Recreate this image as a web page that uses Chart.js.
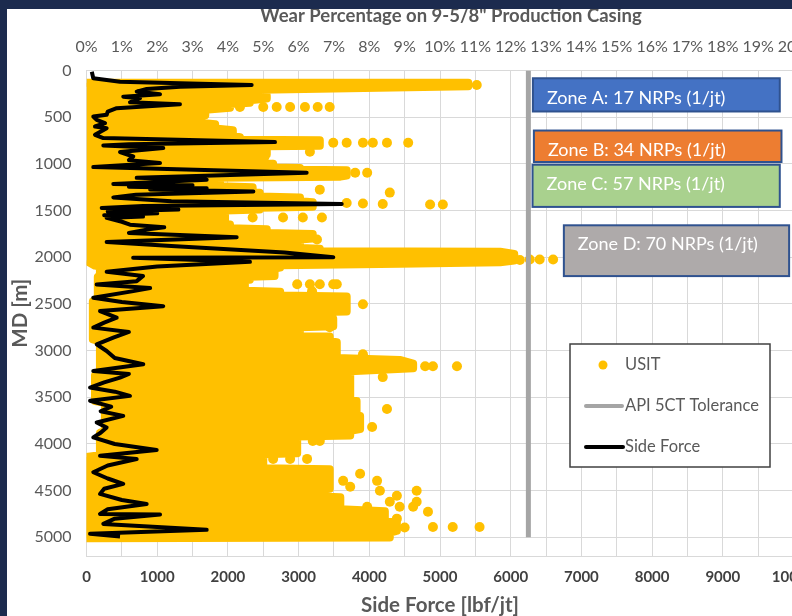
<!DOCTYPE html>
<html>
<head>
<meta charset="utf-8">
<script src="https://cdn.jsdelivr.net/npm/chart.js@4.4.1/dist/chart.umd.min.js"></script>
<style>
  html, body { margin: 0; padding: 0; width: 792px; height: 616px; overflow: hidden; background: #1c2b4e; }
  #card { position: absolute; left: 7px; top: 9px; width: 830px; height: 611px; background: #ffffff; overflow: hidden; }
</style>
</head>
<body>
<div id="card"><canvas id="wear"></canvas></div>
<script>
// USIT readings: outline of the dense band (force lbf/jt, depth m)
const usitCoreForce = [0, 5400, 5400, 2450, 2450, 2550, 2550, 2310, 2310, 2030, 2030, 1680, 1680, 1600, 1600, 1820, 1820, 2070, 2070, 2170,
  2170, 3300, 3300, 2550, 2550, 2520, 2520, 2640, 2640, 3020, 3020, 3680, 3680, 3590, 1790, 1790, 1890, 1890, 2350, 2350,
  2450, 2450, 3020, 3020, 3200, 3200, 2450, 2450, 1960, 1960, 2030, 2030, 2550, 2550, 3200, 3200, 3020, 3020, 3300, 3300,
  5850, 6050, 6050, 5850, 4430, 2740, 2740, 2660, 2660, 2310, 2310, 2240, 2240, 2740, 2740, 3680, 3680, 3160, 3160,
  3490, 3490, 3020, 3020, 2210, 2210, 3440, 3440, 3540, 3540, 4430, 4620, 4620, 3730, 3730, 3820, 3820, 3870, 3870, 3730,
  3730, 2980, 2980, 2500, 2500, 3440, 3440, 3230, 3230, 3590, 3590, 4220, 4220, 4390, 4390, 4290, 4290, 0,
  0, 190, 190, 260, 260, 120, 120, 190, 190, 90, 90, 160, 160, 190, 190, 120, 0];
const usitCoreDepth = [130, 130, 170, 205, 260, 270, 300, 320, 345, 360, 400, 420, 480, 500, 560, 575, 620, 640, 700, 715,
  742, 748, 806, 812, 900, 940, 990, 1000, 1040, 1045, 1062, 1068, 1125, 1137, 1150, 1200, 1210, 1240, 1250, 1300,
  1310, 1350, 1360, 1400, 1410, 1460, 1470, 1490, 1500, 1640, 1650, 1690, 1700, 1740, 1750, 1800, 1810, 1900, 1910, 1935,
  1940, 1965, 2035, 2055, 2070, 2085, 2110, 2120, 2200, 2210, 2240, 2250, 2360, 2370, 2410, 2420, 2580, 2590, 2650,
  2660, 2740, 2750, 2790, 2800, 2840, 2850, 2900, 2910, 3080, 3100, 3140, 3190, 3220, 3520, 3540, 3680, 3700, 3840, 3860,
  3910, 3920, 4100, 4110, 4260, 4270, 4480, 4500, 4560, 4570, 4700, 4720, 4820, 4840, 4930, 4950, 5003, 5010,
  4140, 4120, 3880, 3860, 3560, 3540, 3260, 3240, 2900, 2880, 2470, 2450, 2210, 2190, 2100, 2090, 2040];

// USIT readings outside the dense band
const usitDotForce = [5300, 5520, 2170, 2500, 2690, 2880, 3090, 3270, 3440, 3490, 3680, 3910, 4050, 4250, 4550, 3160, 3800, 3970,
  3300, 4290, 3680, 3910, 4190, 4860, 5040, 2350, 2780, 3060, 3330, 3260, 6130, 6270, 6410, 6600,
  2980, 3160, 3300, 3490, 3540, 3190, 3910, 3160, 3440, 2450, 2670, 2920, 3490, 3910, 4790, 4900, 5240, 4190,
  4250, 4040, 3200, 3300, 2640, 2880, 3120, 3870, 3630, 4110, 3730, 4150, 4670, 4390, 4290, 4670, 3970, 4430,
  4620, 4830, 4390, 4500, 4900, 5180, 5560];
const usitDotDepth = [150, 155, 390, 390, 390, 390, 390, 390, 390, 774, 774, 774, 774, 774, 774, 870, 1095, 1095,
  1276, 1308, 1420, 1425, 1430, 1436, 1436, 1575, 1575, 1575, 1575, 1810, 2030, 2025, 2025, 2025,
  2290, 2290, 2290, 2290, 2290, 2365, 2504, 2643, 2750, 2814, 2814, 2814, 2953, 3039, 3167, 3167, 3167, 3284,
  3626, 3818, 3968, 3968, 4160, 4160, 4160, 4320, 4395, 4395, 4459, 4502, 4502, 4555, 4619, 4619, 4672, 4672,
  4672, 4726, 4800, 4895, 4890, 4890, 4890];

// Side force along the well
const sideForceDepth = [13, 83, 120, 137, 155, 173, 198, 226, 254, 280, 297, 340, 361, 404, 440, 475, 493, 529, 564, 600,
  618, 689, 724, 767, 790, 803, 831, 874, 921, 960, 991, 1034, 1095, 1150, 1170, 1216, 1230, 1245, 1260, 1275,
  1295, 1330, 1359, 1400, 1430, 1450, 1472, 1490, 1510, 1530, 1550, 1565, 1579, 1620, 1651, 1680, 1704, 1740, 1786, 1836,
  1880, 1950, 2000, 2005, 2049, 2100, 2156, 2200, 2256, 2292, 2330, 2363, 2434, 2480, 2524, 2577, 2648, 2700, 2754, 2800,
  2861, 2933, 3004, 3080, 3146, 3218, 3250, 3289, 3340, 3396, 3440, 3485, 3538, 3600, 3650, 3699, 3770, 3823, 3880, 3930,
  4000, 4065, 4126, 4161, 4230, 4303, 4370, 4428, 4480, 4535, 4600, 4642, 4700, 4749, 4756, 4800, 4856, 4920, 4963, 4991];
const sideForceValue = [75, 96, 474, 1322, 2336, 1322, 851, 710, 1040, 520, 757, 615, 1322, 427, 300, 285, 96, 144, 262, 120,
  285, 120, 238, 2666, 600, 238, 1086, 474, 662, 600, 1040, 96, 3114, 710, 1700, 379, 1500, 600, 1700, 900,
  2360, 700, 379, 1200, 3610, 800, 215, 1300, 300, 1000, 250, 800, 285, 500, 615, 1100, 851, 600, 2124, 285,
  1200, 2800, 3491, 660, 2312, 1000, 285, 800, 710, 144, 900, 662, 96, 500, 1086, 191, 427, 250, 96, 600,
  379, 144, 285, 400, 803, 96, 600, 474, 250, 50, 400, 615, 50, 350, 200, 520, 144, 285, 200, 96,
  400, 993, 191, 710, 300, 96, 300, 520, 250, 191, 500, 851, 300, 191, 1040, 400, 238, 1700, 50, 474];

// API 5CT tolerance (12.5% wall loss)
const toleranceForce = 6250;
const toleranceDepth = [0, 5000];

// Zone call-outs
const zoneLabels = ['Zone A: 17 NRPs (1/jt)', 'Zone B: 34 NRPs (1/jt)', 'Zone C: 57 NRPs (1/jt)', 'Zone D: 70 NRPs (1/jt)'];
const zoneForceFrom = [6314, 6328, 6309, 6752];
const zoneForceTo = [9806, 9830, 9806, 9938];
const zoneDepthFrom = [83, 643, 1009, 1658];
const zoneDepthTo = [439, 980, 1461, 2202];
const zoneTextDepth = [297, 849, 1223, 1864];
const zoneFill = ['#4472c4', '#ed7d31', '#a9d18e', '#aeaaaa'];

// axes
const pctTicks = { min: 0, max: 20 };
const forceTicks = { min: 0, max: 10000 };
const depthRange = { min: 0, max: 5200 };
const depthTickValues = [0, 500, 1000, 1500, 2000, 2500, 3000, 3500, 4000, 4500, 5000];

(function() {
  const colors = {
    usit: '#ffc000',
    side: '#000000',
    tol: '#a5a5a5',
    grid: '#d9d9d9',
    text: '#595959',
    dark: '#404040'
  };
  const FONT = 'Lato, "Open Sans", sans-serif';

  const toXY = (xs, ys) => xs.map((x, i) => ({ x: x, y: ys[i] }));

  const zonePlugin = {
    id: 'zones',
    afterDatasetsDraw(chart) {
      const { ctx, scales: { x, y } } = chart;
      ctx.save();
      zoneLabels.forEach((label, i) => {
        const l = x.getPixelForValue(zoneForceFrom[i]);
        const r = x.getPixelForValue(zoneForceTo[i]);
        const t = y.getPixelForValue(zoneDepthFrom[i]);
        const b = y.getPixelForValue(zoneDepthTo[i]);
        ctx.fillStyle = zoneFill[i];
        ctx.fillRect(l, t, r - l, b - t);
        ctx.strokeStyle = '#2f528f';
        ctx.lineWidth = 2;
        ctx.strokeRect(l, t, r - l, b - t);
        ctx.fillStyle = '#ffffff';
        ctx.font = '18px ' + FONT;
        ctx.textBaseline = 'middle';
        ctx.textAlign = 'left';
        ctx.fillText(label, l + 14, y.getPixelForValue(zoneTextDepth[i]));
      });

      // legend box
      const lx = 563, ly = 335, lw = 200, lh = 123;
      ctx.fillStyle = '#ffffff';
      ctx.fillRect(lx, ly, lw, lh);
      ctx.strokeStyle = '#404040';
      ctx.lineWidth = 1.5;
      ctx.strokeRect(lx, ly, lw, lh);
      ctx.font = '16.5px ' + FONT;
      ctx.fillStyle = colors.text;
      ctx.textBaseline = 'middle';
      ctx.fillText('USIT', lx + 55, ly + 21);
      ctx.fillText('API 5CT Tolerance', lx + 55, ly + 62);
      ctx.fillText('Side Force', lx + 55, ly + 103);
      ctx.beginPath();
      ctx.arc(lx + 33, ly + 21, 4.5, 0, Math.PI * 2);
      ctx.fillStyle = colors.usit;
      ctx.fill();
      ctx.lineCap = 'round';
      ctx.lineWidth = 4;
      ctx.strokeStyle = colors.tol;
      ctx.beginPath(); ctx.moveTo(lx + 16, ly + 62); ctx.lineTo(lx + 52, ly + 62); ctx.stroke();
      ctx.strokeStyle = colors.side;
      ctx.beginPath(); ctx.moveTo(lx + 16, ly + 103); ctx.lineTo(lx + 53, ly + 103); ctx.stroke();

      // chart title
      ctx.font = 'bold 18.5px ' + FONT;
      ctx.fillStyle = colors.text;
      ctx.textAlign = 'center';
      ctx.textBaseline = 'alphabetic';
      ctx.fillText('Wear Percentage on 9-5/8" Production Casing', 444, 12.7);
      ctx.restore();
    }
  };

  new Chart(document.getElementById('wear'), {
    type: 'scatter',
    data: {
      datasets: [
        {
          label: 'Side Force',
          data: toXY(sideForceValue, sideForceDepth),
          showLine: true,
          borderColor: colors.side,
          borderWidth: 4,
          borderJoinStyle: 'round',
          pointRadius: 0,
          tension: 0,
          order: 0
        },
        {
          label: 'API 5CT Tolerance',
          data: toleranceDepth.map(d => ({ x: toleranceForce, y: d })),
          showLine: true,
          borderColor: colors.tol,
          borderWidth: 5,
          pointRadius: 0,
          order: 1
        },
        {
          label: 'USIT',
          data: toXY(usitDotForce, usitDotDepth),
          backgroundColor: colors.usit,
          borderWidth: 0,
          pointRadius: 5,
          order: 2
        },
        {
          label: 'USIT band',
          type: 'line',
          data: toXY(usitCoreForce, usitCoreDepth),
          borderColor: colors.usit,
          backgroundColor: colors.usit,
          borderWidth: 8,
          borderJoinStyle: 'round',
          fill: 'shape',
          pointRadius: 0,
          tension: 0,
          order: 3
        }
      ]
    },
    options: {
      responsive: true,
      maintainAspectRatio: false,
      animation: false,
      layout: { padding: { left: 0, right: 43.5, top: 0, bottom: 0 } },
      plugins: {
        legend: { display: false },
        tooltip: { enabled: false }
      },
      scales: {
        x: {
          type: 'linear',
          position: 'bottom',
          min: forceTicks.min,
          max: forceTicks.max,
          ticks: {
            stepSize: 1000,
            padding: 12,
            color: colors.dark,
            font: { family: FONT, size: 15, weight: 'bold' },
            maxRotation: 0,
            autoSkip: false,
            callback: v => String(v)
          },
          grid: { display: false, drawTicks: false },
          border: { color: colors.grid },
          title: {
            display: true,
            text: 'Side Force [lbf/jt]',
            color: colors.text,
            font: { family: FONT, size: 20.5, weight: 'bold' },
            padding: { top: 4, bottom: 2 }
          },
          afterFit(scale) { scale.height = 64; }
        },
        x2: {
          type: 'linear',
          position: 'top',
          min: pctTicks.min,
          max: pctTicks.max,
          ticks: {
            stepSize: 1,
            padding: 14,
            color: colors.text,
            font: { family: FONT, size: 16 },
            maxRotation: 0,
            autoSkip: false,
            callback: v => v + '%'
          },
          grid: { color: colors.grid, drawTicks: false },
          border: { color: colors.grid },
          afterFit(scale) { scale.height = 61.5; }
        },
        y: {
          type: 'linear',
          reverse: true,
          min: depthRange.min,
          max: depthRange.max,
          afterBuildTicks(scale) {
            scale.ticks = depthTickValues.map(v => ({ value: v }));
          },
          ticks: {
            padding: 15,
            color: colors.text,
            font: { family: FONT, size: 16 },
            autoSkip: false,
            callback: v => String(v)
          },
          grid: { color: colors.grid, drawTicks: false },
          border: { color: colors.grid },
          title: {
            display: true,
            text: 'MD [m]',
            color: colors.text,
            font: { family: FONT, size: 20.5, weight: 'bold' },
            padding: { top: 1, bottom: 4 }
          },
          afterFit(scale) { scale.width = 79.5; }
        }
      }
    },
    plugins: [zonePlugin]
  });
})();
</script>
</body>
</html>
